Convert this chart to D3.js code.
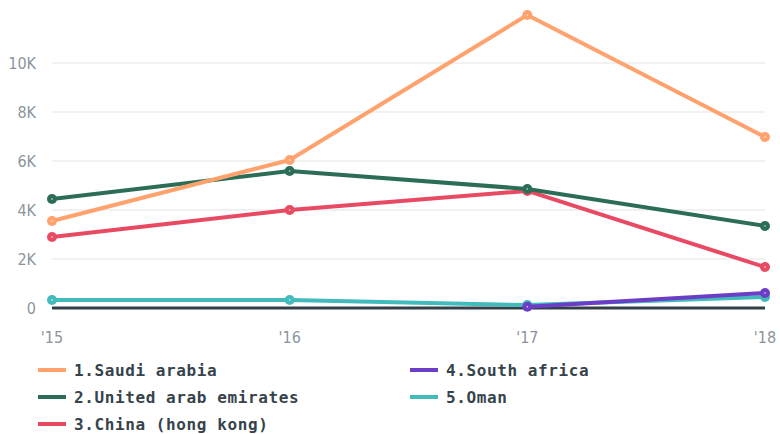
<!DOCTYPE html>
<html>
<head>
<meta charset="utf-8">
<script src="https://cdn.jsdelivr.net/npm/d3@7"></script>
<style>
  body { margin: 0; background: #fff; }
  .tick-label { font-family: "DejaVu Sans Condensed", "DejaVu Sans", sans-serif; fill: #8c959d; font-size: 16px; }
  .legend-label { font-family: "DejaVu Sans Mono", monospace; font-weight: bold; fill: #36434b; font-size: 16px; }
</style>
</head>
<body>
<svg id="chart" width="780" height="434"></svg>
<script>
// Chart data
const years = ['15', '16', '17', '18'];
const seriesNames = ['1.Saudi arabia', '2.United arab emirates', '3.China (hong kong)', '4.South africa', '5.Oman'];
const seriesColors = ['#ffa26e', '#2b6e55', '#e84a64', '#6c3ec8', '#41bbbb'];
const saudiValues = [3550, 6040, 11960, 6980];
const uaeValues = [4450, 5590, 4860, 3350];
const chinaValues = [2900, 4000, 4780, 1670];
const southAfricaValues = [null, null, 50, 610];
const omanValues = [330, 330, 120, 450];
const yTicks = [0, 2000, 4000, 6000, 8000, 10000];

const allValues = [saudiValues, uaeValues, chinaValues, southAfricaValues, omanValues];

const svg = d3.select('#chart');
const margin = { left: 52, right: 15, top: 15, bottom: 126 };
const width = 780, height = 434;

const x = d3.scalePoint()
    .domain(years)
    .range([margin.left, width - margin.right]);

const y = d3.scaleLinear()
    .domain([0, 10000])
    .range([308, 63]);

// Grid lines
svg.append('g')
    .selectAll('line')
    .data(yTicks.filter(d => d > 0))
    .enter()
    .append('line')
    .attr('x1', margin.left)
    .attr('x2', width - margin.right)
    .attr('y1', d => y(d))
    .attr('y2', d => y(d))
    .attr('stroke', '#ececec')
    .attr('stroke-width', 1.5);

// Y labels
svg.append('g')
    .selectAll('text')
    .data(yTicks)
    .enter()
    .append('text')
    .attr('class', 'tick-label')
    .attr('x', 36)
    .attr('y', d => y(d))
    .attr('dy', '0.35em')
    .attr('text-anchor', 'end')
    .text(d => d === 0 ? '0' : (d / 1000) + 'K');

// X labels
svg.append('g')
    .selectAll('text')
    .data(years)
    .enter()
    .append('text')
    .attr('class', 'tick-label')
    .attr('x', d => x(d))
    .attr('y', 337)
    .attr('dy', '0.35em')
    .attr('text-anchor', 'middle')
    .text(d => "'" + d);

// Zero line
svg.append('line')
    .attr('x1', margin.left)
    .attr('x2', width - margin.right)
    .attr('y1', y(0))
    .attr('y2', y(0))
    .attr('stroke', '#333f47')
    .attr('stroke-width', 3);

const line = d3.line()
    .defined(d => d != null)
    .x((d, i) => x(years[i]))
    .y(d => y(d));

// Draw from last to first so Saudi arabia sits on top
const drawOrder = [4, 3, 2, 1, 0];
drawOrder.forEach(s => {
    const values = allValues[s];
    const g = svg.append('g');
    g.append('path')
        .datum(values)
        .attr('d', line)
        .attr('fill', 'none')
        .attr('stroke', seriesColors[s])
        .attr('stroke-width', 4)
        .attr('stroke-linejoin', 'round');

    const pts = values.map((v, i) => ({ v, i })).filter(d => d.v != null);
    g.selectAll('circle.dot')
        .data(pts)
        .enter()
        .append('circle')
        .attr('class', 'dot')
        .attr('cx', d => x(years[d.i]))
        .attr('cy', d => y(d.v))
        .attr('r', 5)
        .attr('fill', seriesColors[s]);
    g.selectAll('circle.center')
        .data(pts)
        .enter()
        .append('circle')
        .attr('class', 'center')
        .attr('cx', d => x(years[d.i]))
        .attr('cy', d => y(d.v))
        .attr('r', 0.8)
        .attr('fill', '#fff')
        .attr('opacity', 0.8);
});

// Legend
const legend = svg.append('g');
seriesNames.forEach((name, i) => {
    const col = i < 3 ? 0 : 1;
    const row = i < 3 ? i : i - 3;
    const lx = col === 0 ? 38 : 410;
    const ly = 370 + row * 27;
    legend.append('line')
        .attr('x1', lx)
        .attr('x2', lx + 28)
        .attr('y1', ly)
        .attr('y2', ly)
        .attr('stroke', seriesColors[i])
        .attr('stroke-width', 4);
    legend.append('text')
        .attr('class', 'legend-label')
        .attr('x', lx + 36)
        .attr('y', ly)
        .attr('dy', '0.35em')
        .attr('letter-spacing', '0.6px')
        .text(name);
});
</script>
</body>
</html>
